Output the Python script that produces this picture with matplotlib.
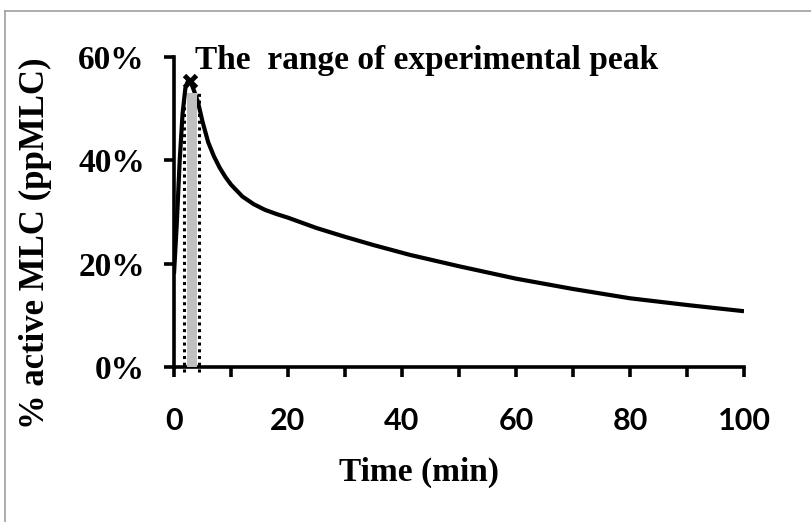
import matplotlib
matplotlib.use("Agg")
import matplotlib.pyplot as plt
from matplotlib.patches import Rectangle
from matplotlib.lines import Line2D

# Simulated ppMLC time course (minutes, fraction of active MLC)
time_min = [0, 0.5, 1.0, 1.5, 2.0, 2.5, 3.0, 3.5, 4.2, 5.0, 6.0, 7.0, 8.0,
            9.0, 10.0, 12.0, 14.0, 16.0, 18.0, 20.0, 25.0, 30.0, 35.0, 41.4,
            50.0, 60.0, 70.0, 80.0, 90.0, 100.0]
pp_mlc = [0.18, 0.28, 0.40, 0.49, 0.54, 0.555, 0.55, 0.535, 0.513, 0.475,
          0.435, 0.408, 0.386, 0.368, 0.353, 0.330, 0.315, 0.304, 0.296,
          0.289, 0.269, 0.252, 0.236, 0.217, 0.195, 0.171, 0.151, 0.133,
          0.120, 0.108]

# Experimental peak window and simulated peak
peak_range = [2.3, 4.0]
peak_height = 0.53
window_lines = [1.75, 4.4]
peak_point = (2.8, 0.553)

x_ticks = [0, 20, 40, 60, 80, 100]
x_minor = [10, 30, 50, 70, 90]
y_ticks = [0, 0.2, 0.4, 0.6]
y_labels = ["0%", "20%", "40%", "60%"]

W, H = 812, 522
fig = plt.figure(figsize=(W / 100, H / 100), dpi=100)
ax = fig.add_axes([174 / W, 1 - 367 / H, (744 - 174) / W, (367 - 57) / H])

serif = ["Liberation Serif", "DejaVu Serif"]

ax.plot(time_min, pp_mlc, color="black", lw=3.0, solid_capstyle="butt",
        solid_joinstyle="round", zorder=2)
ax.add_patch(Rectangle((peak_range[0], 0), peak_range[1] - peak_range[0], peak_height,
                       facecolor="#c0c0c0", edgecolor="none", zorder=3))
for xv in window_lines:
    ax.plot([xv, xv], [-0.01, peak_height + 0.005], color="black", lw=2.2,
            ls=(0, (1, 1.2)), clip_on=False, zorder=4)
ax.plot([peak_point[0]], [peak_point[1]], marker="x", ms=9, mew=3.5,
        color="black", zorder=5, clip_on=False)

ax.set_xlim(0, 100)
ax.set_ylim(0, 0.6)
for s in ("top", "right"):
    ax.spines[s].set_visible(False)
for s in ("left", "bottom"):
    ax.spines[s].set_linewidth(2.6)

ax.set_xticks(x_ticks)
ax.set_xticks(x_minor, minor=True)
ax.set_xticklabels([str(v) for v in x_ticks], fontfamily="Lato",
                   fontweight="bold", fontsize=22)
ax.set_yticks(y_ticks)
ax.set_yticklabels(y_labels, fontfamily=serif, fontweight="bold", fontsize=24)
ax.tick_params(axis="both", which="both", direction="out", length=7, width=2.6)
ax.tick_params(axis="x", which="major", pad=22)
ax.tick_params(axis="y", which="major", pad=14)

fig.text(195 / W, 1 - 60 / H, "The  range of experimental peak",
         fontfamily=serif, fontweight="bold", fontsize=24, ha="left", va="center")

fig.text(419 / W, 1 - 472 / H, "Time (min)", fontfamily=serif,
         fontweight="bold", fontsize=24, ha="center", va="center")
fig.text(35 / W, 1 - 243 / H, "% active MLC (ppMLC)", fontfamily=serif,
         fontweight="bold", fontsize=25, ha="center", va="center", rotation=90)

# Outer frame (top and left edges visible)
frame_color = "#a0a0a0"
fig.add_artist(Line2D([5 / W, 1], [1 - 11 / H, 1 - 11 / H], transform=fig.transFigure,
                      color=frame_color, lw=1.2))
fig.add_artist(Line2D([5 / W, 5 / W], [0, 1 - 11 / H], transform=fig.transFigure,
                      color=frame_color, lw=1.2))

fig.savefig("out.png", dpi=100)
